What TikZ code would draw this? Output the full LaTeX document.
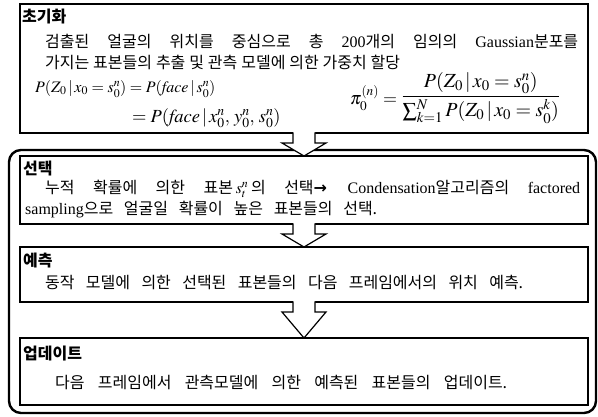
\documentclass[tikz,border=0pt]{standalone}
\usepackage{mathptmx}
\usepackage{fontspec}
\setmainfont{Liberation Serif}
\newfontfamily\kr{Noto Sans CJK KR}
\newfontfamily\arrfont{DejaVu Sans}
\usetikzlibrary{calc}
\newcommand{\K}[1]{{\kr #1}}
\newcommand{\blockarr}[2]{%
  \fill[white] ($(#1.south)+(-11,-1.5)$) -- ($(#1.south)+(-11,10)$) -- ($(#1.south)+(-22,10)$) -- (#2.north) -- ($(#1.south)+(22,10)$) -- ($(#1.south)+(11,10)$) -- ($(#1.south)+(11,-1.5)$) -- cycle;
  \draw[arrline] ($(#1.south)+(-11,-0.6)$) -- ($(#1.south)+(-11,10)$) -- ($(#1.south)+(-22,10)$) -- (#2.north) -- ($(#1.south)+(22,10)$) -- ($(#1.south)+(11,10)$) -- ($(#1.south)+(11,-0.6)$);
}
\tikzset{
  stagebox/.style={draw, line width=1.3pt, anchor=north west, inner sep=0pt, outer sep=0pt, minimum width=568pt},
  arrline/.style={line width=1.2pt, line join=miter},
  txt/.style={anchor=west, inner sep=0pt, font=\fontsize{16}{19}\selectfont},
  mth/.style={anchor=west, inner sep=0pt, font=\fontsize{16}{19}\selectfont},
}
\begin{document}
\begin{tikzpicture}[x=1pt,y=-1pt]
\useasboundingbox (0,0) rectangle (598,416);
% outer loop frame
\draw[line width=2.4pt, rounded corners=12pt] (9,150) rectangle (596,413);
% boxes
\node[stagebox, fill=white, minimum height=129pt] (b1) at (20,4) {};
\node[stagebox, minimum height=68pt] (b2) at (20,156) {};
\node[stagebox, minimum height=55pt] (b3) at (20,247) {};
\node[stagebox, minimum height=67pt] (b4) at (20,338) {};
% arrows
\blockarr{b1}{b2}
\blockarr{b2}{b3}
\blockarr{b3}{b4}
% box 1 texts
\node[txt] (t1) at (22,17) {\K{\bfseries 초기화}};
\node[txt] (l11) at (45,41) {\makebox[533pt][s]{\K{검출된 얼굴의 위치를 중심으로 총 }200\K{개의 임의의 }Gaussian\K{분포를}}};
\node[txt] (l12) at (45,62) {\makebox[355pt][s]{\K{가지는 표본들의 추출 및 관측 모델에 의한 가중치 할당}}};
\node[mth] (f1) at (35,89) {$P(Z_0\,|\,x_0=s_0^n)=P(\mathit{face}\,|\,s_0^n)$};
\node[mth, font=\fontsize{18.5}{21}\selectfont] (f2) at (132,118) {$=P(\mathit{face}\,|\,x_0^n,\,y_0^n,\,s_0^n)$};
\node[mth, font=\fontsize{18}{21}\selectfont] (f3a) at (350,98) {$\pi_0^{(n)}=$};
\node[mth, font=\fontsize{20}{23}\selectfont, anchor=west] (f3b) at ([xshift=4pt]f3a.east) {$\displaystyle\frac{P(Z_0\,|\,x_0=s_0^n)}{\sum\nolimits_{k=1}^{N}P(Z_0\,|\,x_0=s_0^k)}$};
% box 2 texts
\node[txt] (t2) at (23,169) {\K{\bfseries 선택}};
\node[txt] (l21) at (45,189) {\makebox[535pt][s]{\K{누적 확률에 의한  표본}\,$s_t^{n}$\,\K{의 선택}{\arrfont\bfseries →} Condensation\K{알고리즘의 }factored}};
\node[txt] (l22) at (25,210) {\makebox[352pt][s]{sampling\K{으로 얼굴일 확률이 높은 표본들의 선택.}}};
% box 3 texts
\node[txt] (t3) at (23,261) {\K{\bfseries 예측}};
\node[txt] (l31) at (45,282) {\makebox[478pt][s]{\K{동작 모델에 의한 선택된 표본들의 다음 프레임에서의 위치 예측.}}};
% box 4 texts
\node[txt] (t4) at (23,354) {\K{\bfseries 업데이트}};
\node[txt] (l41) at (55,382) {\makebox[452pt][s]{\K{다음 프레임에서 관측모델에 의한 예측된 표본들의 업데이트.}}};
\end{tikzpicture}
\end{document}
